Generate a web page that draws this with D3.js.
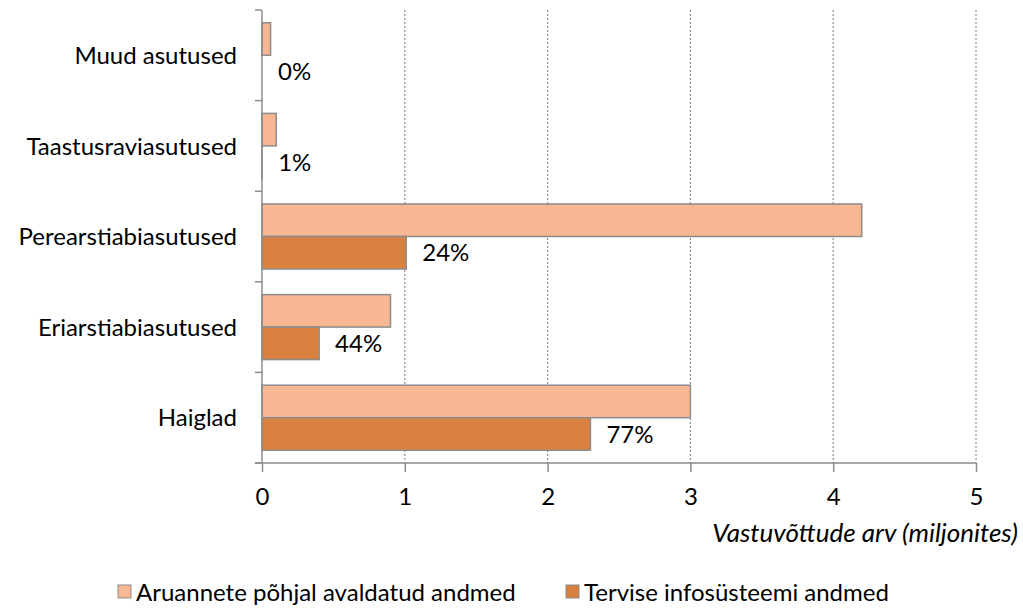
<!DOCTYPE html>
<html>
<head>
<meta charset="utf-8">
<script src="https://cdn.jsdelivr.net/npm/d3@7"></script>
<style>
  body { margin: 0; background: #fff; }
  text { font-family: Lato, "Open Sans", sans-serif; fill: #000; }
</style>
</head>
<body>
<div id="chart"></div>
<script>
// data (top to bottom)
var categories = ["Muud asutused", "Taastusraviasutused", "Perearstiabiasutused", "Eriarstiabiasutused", "Haiglad"];
var reported = [0.06, 0.1, 4.2, 0.9, 3.0];
var tis = [0.0, 0.001, 1.01, 0.4, 2.3];
var shares = ["0%", "1%", "24%", "44%", "77%"];
var xTicks = [0, 1, 2, 3, 4, 5];
var seriesNames = ["Aruannete põhjal avaldatud andmed", "Tervise infosüsteemi andmed"];
var colors = ["#F8B793", "#D9823F"];

var w = 1023, h = 610;
var mLeft = 262, mRight = 976, mTop = 10, mBottom = 463;
var fs = '24px';

var svg = d3.select('#chart').append('svg')
  .attr('width', w).attr('height', h);

var x = d3.scaleLinear().domain([0, 5]).range([mLeft, mRight]);
var y = d3.scaleBand().domain(categories).range([mTop, mBottom]);
var inner = d3.scaleBand().domain([0, 1]).range([0, 65]);
var off = (y.bandwidth() - 65) / 2;

// grid
svg.selectAll('line.grid')
  .data(xTicks.slice(1))
  .enter().append('line')
  .attr('x1', function(d) { return x(d); })
  .attr('x2', function(d) { return x(d); })
  .attr('y1', mTop).attr('y2', mBottom)
  .attr('stroke', '#8c8c8c')
  .attr('stroke-width', 1.2)
  .attr('stroke-dasharray', '2,2');

// bars
var g = svg.selectAll('g.cat')
  .data(categories)
  .enter().append('g')
  .attr('transform', function(d) { return 'translate(0,' + (y(d) + off) + ')'; });

g.append('rect')
  .attr('x', x(0))
  .attr('y', inner(0))
  .attr('width', function(d, i) { return x(reported[i]) - x(0); })
  .attr('height', inner.bandwidth())
  .attr('fill', colors[0])
  .attr('stroke', '#8c8c8c').attr('stroke-width', 1.5);

g.append('rect')
  .attr('x', x(0))
  .attr('y', inner(1))
  .attr('width', function(d, i) { return x(tis[i]) - x(0); })
  .attr('height', inner.bandwidth())
  .attr('fill', colors[1])
  .attr('stroke', '#8c8c8c').attr('stroke-width', 1.5);

g.append('text')
  .attr('x', function(d, i) { return x(tis[i]) + 16; })
  .attr('y', inner(1) + inner.bandwidth() / 2)
  .attr('dy', '0.36em')
  .style('font-size', fs)
  .text(function(d, i) { return shares[i]; });

// y axis
var yAxis = svg.append('g')
  .attr('transform', 'translate(' + mLeft + ',0)');
yAxis.append('line')
  .attr('x1', 0).attr('x2', 0).attr('y1', mTop).attr('y2', mBottom)
  .attr('stroke', '#8c8c8c').attr('stroke-width', 1.5);
yAxis.selectAll('line.tk')
  .data(d3.range(categories.length + 1))
  .enter().append('line')
  .attr('x1', -7).attr('x2', 0)
  .attr('y1', function(i) { return mTop + i * y.step(); })
  .attr('y2', function(i) { return mTop + i * y.step(); })
  .attr('stroke', '#8c8c8c').attr('stroke-width', 1.5);
yAxis.selectAll('text')
  .data(categories)
  .enter().append('text')
  .attr('x', -25)
  .attr('y', function(d) { return y(d) + y.bandwidth() / 2; })
  .attr('dy', '0.36em')
  .attr('text-anchor', 'end')
  .style('font-size', fs)
  .text(function(d) { return d; });

// x axis
var xAxis = svg.append('g')
  .attr('transform', 'translate(0,' + mBottom + ')')
  .call(d3.axisBottom(x).tickValues(xTicks).tickSize(9).tickPadding(16).tickFormat(d3.format('d')));
xAxis.select('.domain').attr('stroke', '#8c8c8c').attr('stroke-width', 1.5)
  .attr('d', 'M' + (mLeft - 7) + ',0H' + mRight);
xAxis.selectAll('.tick line').attr('stroke', '#8c8c8c').attr('stroke-width', 1.5);
xAxis.selectAll('.tick text').style('font-size', fs).attr('fill', '#000')
  .style('font-family', 'Lato, "Open Sans", sans-serif');

svg.append('text')
  .attr('x', 1018).attr('y', 542)
  .attr('text-anchor', 'end')
  .style('font-size', '26px')
  .style('font-style', 'italic')
  .text('Vastuvõttude arv (miljonites)');

// legend
var legX = [118, 566];
var leg = svg.selectAll('g.leg')
  .data(seriesNames)
  .enter().append('g')
  .attr('transform', function(d, i) { return 'translate(' + legX[i] + ',592)'; });
leg.append('rect')
  .attr('x', 0).attr('y', -7)
  .attr('width', 13).attr('height', 13)
  .attr('fill', function(d, i) { return colors[i]; })
  .attr('stroke', '#8c8c8c').attr('stroke-width', 1);
leg.append('text')
  .attr('x', 18).attr('y', 0).attr('dy', '0.36em')
  .style('font-size', fs)
  .text(function(d) { return d; });
</script>
</body>
</html>
